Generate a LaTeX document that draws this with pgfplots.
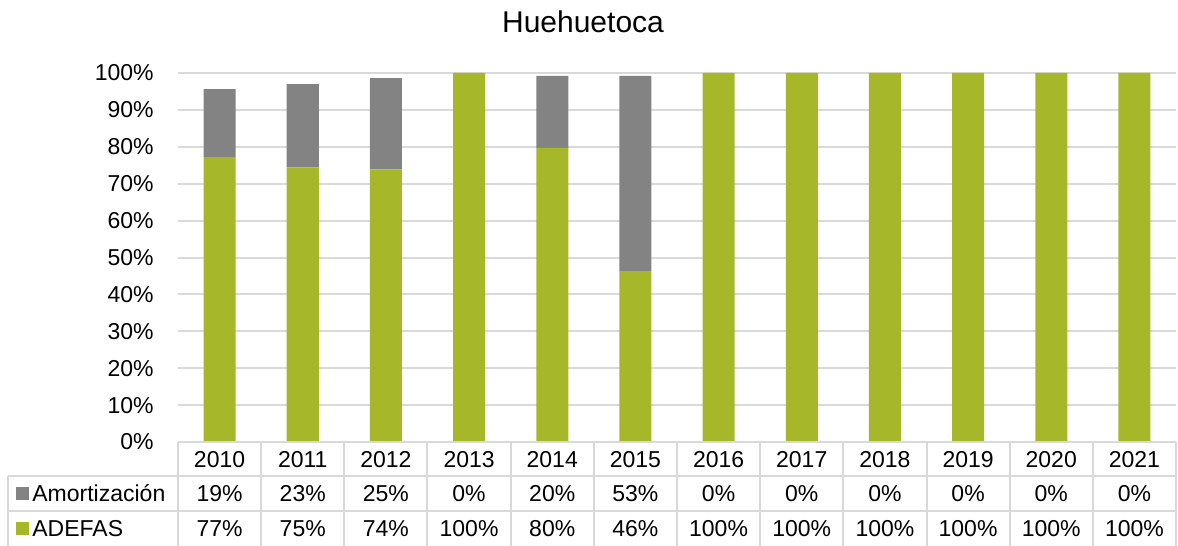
\documentclass[border=0pt]{standalone}
\usepackage{fontspec}
\setmainfont{Liberation Sans}
\usepackage{pgfplots}
\pgfplotsset{compat=1.18}
\definecolor{adefas}{HTML}{A6B82A}
\definecolor{amort}{HTML}{838383}
\definecolor{gridc}{HTML}{D9D9D9}
\newcommand\tabfont{\fontsize{11.5}{13.8}\selectfont}
\begin{document}
\begin{tikzpicture}
\begin{axis}[
  scale only axis, width=499pt, height=184.5pt,
  at={(0pt,0pt)}, anchor=south west,
  xmin=-0.5, xmax=11.5, ymin=0, ymax=100,
  ybar stacked, bar width=16pt,
  xtick=\empty, ytick={0,10,...,100},
  yticklabel={\pgfmathprintnumber{\tick}\%},
  /pgf/number format/assume math mode=true,
  yticklabel style={font=\tabfont, anchor=east, inner sep=0pt, xshift=-12pt},
  ymajorgrids, grid style={gridc, line width=1pt},
  axis line style={draw=none}, major tick length=0pt,
  clip=false,
]
% ADEFAS
\addplot[fill=adefas, draw=none] coordinates {
  (0,77.2) (1,74.4) (2,73.9) (3,100) (4,79.7) (5,46.3)
  (6,100) (7,100) (8,100) (9,100) (10,100) (11,100)};
% Amortizacion
\addplot[fill=amort, draw=none] coordinates {
  (0,18.4) (1,22.6) (2,24.7) (3,0) (4,19.5) (5,52.9)
  (6,0) (7,0) (8,0) (9,0) (10,0) (11,0)};
\end{axis}

% title
\node[anchor=base, font=\fontsize{15}{18}\selectfont] at (202.5pt,204.5pt) {Huehuetoca};

% data table
\begin{scope}[gridc, line width=1pt]
  \draw (0pt,0pt) -- (499pt,0pt);
  \draw (-85pt,-17pt) -- (499pt,-17pt);
  \draw (-85pt,-34.5pt) -- (499pt,-34.5pt);
  \draw (-85pt,-17pt) -- (-85pt,-53pt);
  \foreach \i in {0,...,12} \draw ({\i*41.583pt},0pt) -- ({\i*41.583pt},-53pt);
\end{scope}
\fill[amort] (-81pt,-29pt) rectangle (-74.5pt,-22.5pt);
\fill[adefas] (-81pt,-46.5pt) rectangle (-74.5pt,-40pt);
\node[anchor=base west, font=\tabfont, inner sep=0pt] at (-73pt,-29.8pt) {Amortización};
\node[anchor=base west, font=\tabfont, inner sep=0pt] at (-73pt,-47.3pt) {ADEFAS};
\foreach \i/\y/\a/\d in {0/2010/19/77, 1/2011/23/75, 2/2012/25/74, 3/2013/0/100,
  4/2014/20/80, 5/2015/53/46, 6/2016/0/100, 7/2017/0/100, 8/2018/0/100,
  9/2019/0/100, 10/2020/0/100, 11/2021/0/100} {
  \node[anchor=base, font=\tabfont, inner sep=0pt] at ({(\i+0.5)*41.583pt},-12.6pt) {\y};
  \node[anchor=base, font=\tabfont, inner sep=0pt] at ({(\i+0.5)*41.583pt},-29.8pt) {\a\%};
  \node[anchor=base, font=\tabfont, inner sep=0pt] at ({(\i+0.5)*41.583pt},-47.3pt) {\d\%};
}
\pgfresetboundingbox
\path[use as bounding box] (-89pt,-52pt) rectangle (500pt,221pt);
\end{tikzpicture}
\end{document}
